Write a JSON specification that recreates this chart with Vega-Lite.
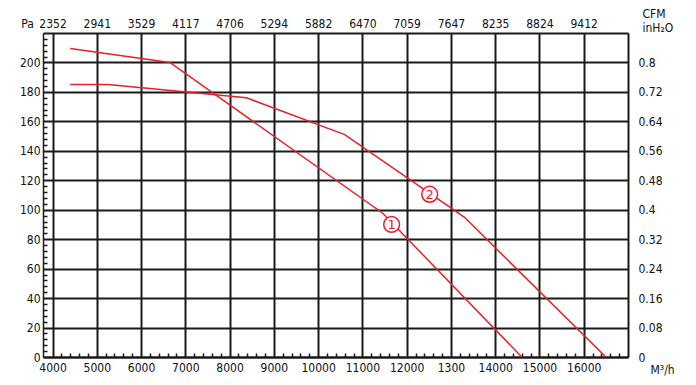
{
  "$schema": "https://vega.github.io/schema/vega-lite/v6.json",
  "width": 585,
  "height": 324,
  "autosize": {"type": "none"},
  "padding": {"left": 43, "top": 33, "right": 68, "bottom": 28},
  "background": "white",
  "config": {
    "view": {"stroke": null},
    "axis": {
      "labelFont": "DejaVu Sans Condensed, Roboto, Liberation Sans",
      "labelFontSize": 12,
      "labelColor": "#111",
      "titleFont": "DejaVu Sans Condensed, Roboto, Liberation Sans",
      "titleFontSize": 12,
      "titleFontWeight": "normal",
      "titleColor": "#111"
    }
  },
  "datasets": {
    "curves": [
      {"flow": 4400, "pa": 209.5, "curve": "1"},
      {"flow": 6650, "pa": 200, "curve": "1"},
      {"flow": 11460, "pa": 97.6, "curve": "1"},
      {"flow": 14600, "pa": 0, "curve": "1"},
      {"flow": 4400, "pa": 185, "curve": "2"},
      {"flow": 5250, "pa": 185, "curve": "2"},
      {"flow": 8380, "pa": 176, "curve": "2"},
      {"flow": 10600, "pa": 151, "curve": "2"},
      {"flow": 13300, "pa": 95, "curve": "2"},
      {"flow": 16500, "pa": 0, "curve": "2"}
    ],
    "tags": [
      {"flow": 11660, "pa": 90, "label": "1"},
      {"flow": 12520, "pa": 110.5, "label": "2"}
    ]
  },
  "layer": [
    {
      "data": {"name": "curves"},
      "mark": {"type": "line", "color": "#e8202a", "strokeWidth": 1.5},
      "encoding": {
        "x": {
          "field": "flow", "type": "quantitative",
          "scale": {"domain": [3785, 17000], "nice": false, "zero": false},
          "axis": {
            "orient": "bottom", "title": "M³/h", "titleAlign": "left", "titleX": 607, "titleY": 12, "titleBaseline": "middle", "titleAngle": 0,
            "values": [4000, 5000, 6000, 7000, 8000, 9000, 10000, 11000, 12000, 13000, 14000, 15000, 16000],
            "labelExpr": "datum.value == 13000 ? '1300' : format(datum.value, 'd')",
            "ticks": false, "tickSize": 0, "labelPadding": 5, "labelBaseline": "top",
            "grid": true, "gridColor": "#1a1a1a", "gridWidth": 2, "gridOpacity": 1,
            "domain": true, "domainColor": "#1a1a1a", "domainWidth": 2
          }
        },
        "y": {
          "field": "pa", "type": "quantitative",
          "scale": {"domain": [0, 220], "nice": false},
          "axis": {
            "orient": "left", "title": "Pa", "titleAngle": 0, "titleAlign": "center", "titleBaseline": "middle", "titleX": -16, "titleY": -10,
            "values": [0, 20, 40, 60, 80, 100, 120, 140, 160, 180, 200],
            "ticks": false, "tickSize": 0, "labelPadding": 3,
            "grid": true, "gridColor": "#1a1a1a", "gridWidth": 2, "gridOpacity": 1,
            "domain": true, "domainColor": "#1a1a1a", "domainWidth": 1.5
          }
        },
        "detail": {"field": "curve"}
      }
    },
    {
      "data": {"name": "tags"},
      "mark": {"type": "point", "shape": "circle", "size": 250, "filled": false, "fill": "white", "fillOpacity": 1, "stroke": "#e8202a", "strokeWidth": 1.5, "opacity": 1},
      "encoding": {
        "x": {
          "field": "flow", "type": "quantitative",
          "axis": {
            "orient": "top", "title": null,
            "values": [4000, 5000, 6000, 7000, 8000, 9000, 10000, 11000, 12000, 13000, 14000, 15000, 16000],
            "labelExpr": "['2352','2941','3529','4117','4706','5294','5882','6470','7059','7647','8235','8824','9412'][round((datum.value - 4000) / 1000)]",
            "ticks": false, "tickSize": 0, "labelPadding": 3, "grid": false,
            "domain": true, "domainColor": "#1a1a1a", "domainWidth": 2
          }
        },
        "y": {
          "field": "pa", "type": "quantitative",
          "axis": {
            "orient": "right", "title": ["CFM", "inH₂O"], "titleAngle": 0, "titleAlign": "left", "titleBaseline": "top", "titleX": 14, "titleY": -25, "titleLineHeight": 14,
            "values": [0, 20, 40, 60, 80, 100, 120, 140, 160, 180, 200],
            "labelExpr": "format(datum.value * 0.004, '.2~f')",
            "ticks": false, "tickSize": 0, "labelPadding": 10, "grid": false,
            "domain": true, "domainColor": "#1a1a1a", "domainWidth": 2
          }
        }
      }
    },
    {
      "data": {"name": "tags"},
      "mark": {"type": "text", "color": "#e8202a", "fontSize": 13, "font": "DejaVu Sans", "align": "center", "baseline": "middle", "dy": 1},
      "encoding": {
        "x": {
          "field": "flow", "type": "quantitative",
          "axis": {
            "orient": "bottom", "title": null, "labels": false, "grid": false, "domain": false,
            "values": [4200, 4400, 4600, 4800, 5200, 5400, 5600, 5800, 6200, 6400, 6600, 6800, 7200, 7400, 7600, 7800, 8200, 8400, 8600, 8800, 9200, 9400, 9600, 9800, 10200, 10400, 10600, 10800, 11200, 11400, 11600, 11800, 12200, 12400, 12600, 12800, 13200, 13400, 13600, 13800, 14200, 14400, 14600, 14800, 15200, 15400, 15600, 15800, 16200, 16400, 16600, 16800],
            "ticks": true, "tickSize": -4, "tickWidth": 1.5, "tickColor": "#1a1a1a"
          }
        },
        "y": {
          "field": "pa", "type": "quantitative",
          "axis": {
            "orient": "left", "title": null, "labels": false, "grid": false, "domain": false,
            "values": [4, 8, 12, 16, 24, 28, 32, 36, 44, 48, 52, 56, 64, 68, 72, 76, 84, 88, 92, 96, 104, 108, 112, 116, 124, 128, 132, 136, 144, 148, 152, 156, 164, 168, 172, 176, 184, 188, 192, 196, 204, 208, 212, 216],
            "ticks": true, "tickSize": -4, "tickWidth": 1.5, "tickColor": "#1a1a1a"
          }
        },
        "text": {"field": "label"}
      }
    }
  ],
  "resolve": {"axis": {"x": "independent", "y": "independent"}}
}
